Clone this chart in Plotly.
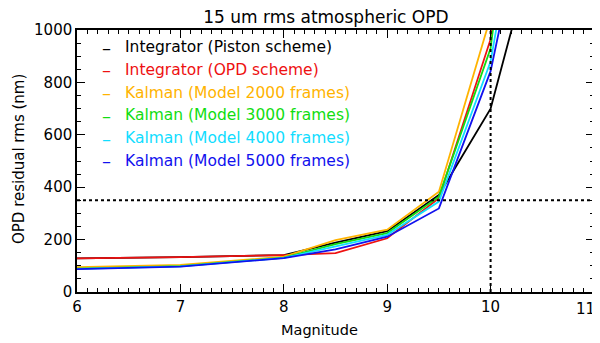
import plotly.graph_objects as go

magnitude = [6, 7, 8, 8.5, 9, 9.5, 10, 10.5]

integ_piston = [128, 133, 141, 188, 232, 370, 700, 1440]
integ_opd = [128, 133, 141, 148, 205, 358, 965, 3000]
kalman_2000 = [95, 103, 135, 198, 238, 383, 1050, 1800]
kalman_3000 = [89, 99, 131, 183, 225, 364, 930, 2500]
kalman_4000 = [88, 98, 130, 175, 218, 345, 880, 2000]
kalman_5000 = [87, 97, 129, 163, 211, 319, 843, 1780]

series_names = [
    "Integrator (Piston scheme)",
    "Integrator (OPD scheme)",
    "Kalman (Model 2000 frames)",
    "Kalman (Model 3000 frames)",
    "Kalman (Model 4000 frames)",
    "Kalman (Model 5000 frames)",
]
series_values = [integ_piston, integ_opd, kalman_2000, kalman_3000, kalman_4000, kalman_5000]
series_colors = ["#000000", "#ee1111", "#ffb300", "#11dd11", "#11ddff", "#1111ee"]

x_ticks = [6, 7, 8, 9, 10, 11]
x_tick_labels = ["6", "7", "8", "9", "10", "11"]
y_ticks = [0, 200, 400, 600, 800, 1000]
threshold_rms = 350
threshold_mag = 10

FONT = "DejaVu Sans"

fig = go.Figure()
for name, vals, col in zip(series_names, series_values, series_colors):
    fig.add_trace(go.Scatter(x=magnitude, y=vals, mode="lines", name=name,
                             line=dict(color=col, width=1.8), showlegend=False))

# dotted reference lines
fig.add_shape(type="line", xref="x", yref="y", x0=6, x1=11, y0=threshold_rms, y1=threshold_rms,
              line=dict(color="black", width=2, dash="dot"))
fig.add_shape(type="line", xref="x", yref="y", x0=threshold_mag, x1=threshold_mag, y0=0, y1=1000,
              line=dict(color="black", width=2, dash="dot"))

# legend as colored text: a dash then the label
for i, (name, col) in enumerate(zip(series_names, series_colors)):
    yy = 0.935 - i * 0.087
    fig.add_annotation(xref="paper", yref="paper", x=0.044, y=yy,
                       text="\u2013", showarrow=False, xanchor="left", yanchor="middle",
                       font=dict(family=FONT, size=18, color=col))
    fig.add_annotation(xref="paper", yref="paper", x=0.089, y=yy,
                       text=name, showarrow=False, xanchor="left", yanchor="middle",
                       font=dict(family=FONT, size=15.5, color=col))

# axis titles
fig.add_annotation(xref="paper", yref="paper", x=0.47, y=-0.145, text="Magnitude",
                   showarrow=False, xanchor="center", yanchor="middle",
                   font=dict(family=FONT, size=14.5, color="black"))
fig.add_annotation(xref="paper", yref="paper", x=-0.112, y=0.508, text="OPD residual rms (nm)",
                   showarrow=False, xanchor="center", yanchor="middle", textangle=-90,
                   font=dict(family=FONT, size=15, color="black"))

# last x tick label kept inside the page
fig.add_annotation(xref="paper", yref="paper", x=1.0, xshift=3, y=-0.065, text=x_tick_labels[-1],
                   showarrow=False, xanchor="right", yanchor="middle",
                   font=dict(family=FONT, size=15, color="black"))

axis_common = dict(showline=True, linecolor="black", linewidth=1.5, mirror="allticks",
                   ticks="inside", tickcolor="black", showgrid=False, zeroline=False,
                   automargin=False,
                   tickfont=dict(family=FONT, size=15, color="black"))

fig.update_xaxes(range=[6, 11], tickvals=x_ticks, ticktext=x_tick_labels[:-1] + [""],
                 ticklen=8, tickwidth=1,
                 minor=dict(dtick=0.1, ticklen=4, ticks="inside", tickcolor="black"),
                 **axis_common)
fig.update_yaxes(range=[0, 1000], tickvals=y_ticks, ticklen=8, tickwidth=1,
                 minor=dict(dtick=50, ticklen=4, ticks="inside", tickcolor="black"),
                 **axis_common)

# page body has an 8px margin, so the figure is 8px smaller each way
fig.update_layout(
    width=592, height=335,
    margin=dict(l=69, r=6, t=22, b=51),
    paper_bgcolor="white", plot_bgcolor="white",
    title=dict(text="15 um rms atmospheric OPD", x=0.537, xanchor="center", y=0.992, yanchor="top",
               font=dict(family=FONT, size=17, color="black")),
)

fig.write_html("out.html")
